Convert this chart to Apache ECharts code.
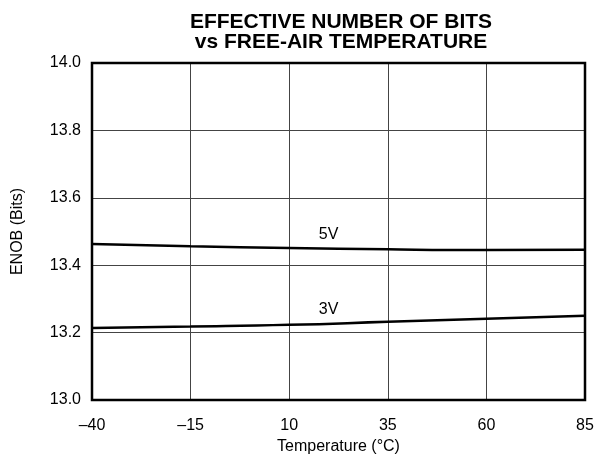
<!DOCTYPE html>
<html><head><meta charset="utf-8">
<script src="https://cdn.jsdelivr.net/npm/echarts@6/dist/echarts.min.js"></script>
<style>html,body{margin:0;padding:0;background:#fff}#c{width:600px;height:467px}</style>
</head><body><div id="c"></div>
<script>
const temps = [-40, -15, 10, 35, 60, 85];
const enob5V = [13.463, 13.456, 13.451, 13.447, 13.445, 13.446];
const enob3V = [13.214, 13.218, 13.223, 13.232, 13.241, 13.250];
const xTicks = [-40, -15, 10, 35, 60, 85];
const yTicks = [13.0, 13.2, 13.4, 13.6, 13.8, 14.0];
const label5V = {text: '5V', x: 20, y: 13.49};
const label3V = {text: '3V', x: 20, y: 13.267};

const font = 'Liberation Sans, Arial, Helvetica, sans-serif';
const chart = echarts.init(document.getElementById('c'));
const pairs = (xs, ys) => xs.map((x, i) => [x, ys[i]]);
const fmtX = v => (v < 0 ? '\u2013' + Math.abs(v) : String(v));

chart.setOption({
  animation: false,
  title: {
    text: 'EFFECTIVE NUMBER OF BITS\nvs FREE-AIR TEMPERATURE',
    left: 336, top: 7, textAlign: 'center',
    textStyle: {fontFamily: font, fontSize: 21, fontWeight: 'bold', color: '#000', lineHeight: 20}
  },
  grid: {left: 92, right: 15, top: 63, bottom: 67, containLabel: false},
  xAxis: {
    type: 'value', min: -40, max: 85, interval: 25,
    name: 'Temperature (°C)', nameLocation: 'middle', nameGap: 32,
    nameTextStyle: {fontFamily: font, fontSize: 16, color: '#000'},
    axisLine: {show: false}, axisTick: {show: false},
    axisLabel: {fontFamily: font, fontSize: 16, color: '#000', margin: 18, formatter: fmtX},
    splitLine: {show: true, lineStyle: {color: '#444', width: 1}}
  },
  yAxis: {
    type: 'value', min: 13.0, max: 14.0, interval: 0.2,
    name: 'ENOB (Bits)', nameLocation: 'middle', nameGap: 66, nameRotate: 90,
    nameTextStyle: {fontFamily: font, fontSize: 16, color: '#000'},
    axisLine: {show: false}, axisTick: {show: false},
    axisLabel: {fontFamily: font, fontSize: 16, color: '#000', margin: 11, formatter: v => v.toFixed(1)},
    splitLine: {show: true, lineStyle: {color: '#444', width: 1}}
  },
  series: [
    {
      type: 'line', data: pairs(temps, enob5V), smooth: true, symbol: 'none',
      lineStyle: {color: '#000', width: 2.5},
      markPoint: {symbol: 'circle', symbolSize: 0, silent: true,
        label: {show: true, formatter: label5V.text, fontFamily: font, fontSize: 16, color: '#000', position: 'inside'},
        data: [{coord: [label5V.x, label5V.y]}]}
    },
    {
      type: 'line', data: pairs(temps, enob3V), smooth: true, symbol: 'none',
      lineStyle: {color: '#000', width: 2.5},
      markPoint: {symbol: 'circle', symbolSize: 0, silent: true,
        label: {show: true, formatter: label3V.text, fontFamily: font, fontSize: 16, color: '#000', position: 'inside'},
        data: [{coord: [label3V.x, label3V.y]}]}
    },
    {
      type: 'line', data: [], silent: true,
      markArea: {silent: true, itemStyle: {color: 'transparent', borderColor: '#000', borderWidth: 2.5},
        data: [[{coord: [xTicks[0], yTicks[0]]}, {coord: [xTicks[xTicks.length-1], yTicks[yTicks.length-1]]}]]}
    }
  ]
});
</script></body></html>
